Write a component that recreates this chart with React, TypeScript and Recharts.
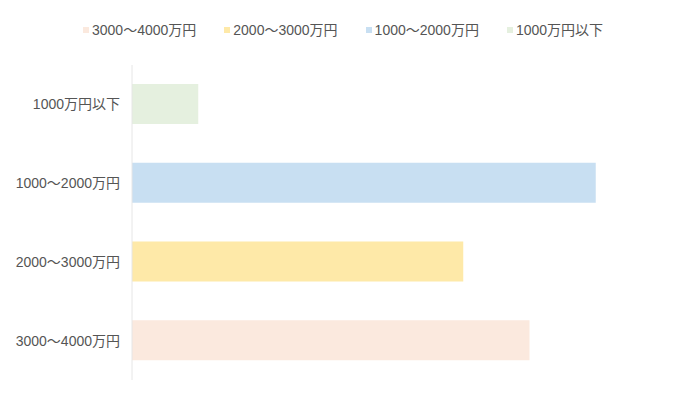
import React from "react";
import { BarChart, Bar, XAxis, YAxis } from "recharts";

// Data
const categories = ["1000万円以下", "1000〜2000万円", "2000〜3000万円", "3000〜4000万円"];
const values = [5, 35, 25, 30];
const colors = ["#e5f0df", "#c8dff2", "#fee9a8", "#fbe9de"];
// legend / series order
const seriesOrder = ["3000〜4000万円", "2000〜3000万円", "1000〜2000万円", "1000万円以下"];

const FONT = "'Liberation Sans', 'Noto Sans CJK JP', sans-serif";

if (typeof document !== "undefined") document.body.style.margin = "0";

const data = categories.map((name, i) => ({ name, [name]: values[i] }));

const colorOf = (name: string) => colors[categories.indexOf(name)];

const LegendBox = () => (
	<div
		style={{
			position: "absolute",
			top: 21,
			left: 83,
			display: "flex",
			fontFamily: FONT,
			fontSize: 14,
			lineHeight: "18px",
			color: "#555",
			whiteSpace: "nowrap",
		}}
	>
		{seriesOrder.map((s) => (
			<div key={s} style={{ display: "flex", alignItems: "center", marginRight: 28 }}>
				<span style={{ width: 6, height: 6, background: colorOf(s), marginRight: 3, display: "inline-block" }} />
				<span>{s}</span>
			</div>
		))}
	</div>
);

const App = () => {
	return (
		<div style={{ position: "relative", width: 680, height: 393 }}>
			<LegendBox />
			<BarChart
				width={680}
				height={393}
				data={data}
				layout="vertical"
				margin={{ top: 65, right: 18, bottom: 13, left: 0 }}
				barSize={40}
			>
				<XAxis type="number" domain={[0, 40]} hide />
				<YAxis
					type="category"
					dataKey="name"
					width={132}
					tickLine={false}
					tickSize={0}
					tickMargin={12}
					axisLine={{ stroke: "#e6e6e6" }}
					tick={{ fill: "#555", fontSize: 14, fontFamily: FONT }}
				/>
				{seriesOrder.map((s) => (
					<Bar key={s} dataKey={s} stackId="a" fill={colorOf(s)} isAnimationActive={false} />
				))}
			</BarChart>
		</div>
	);
};

export default App;
